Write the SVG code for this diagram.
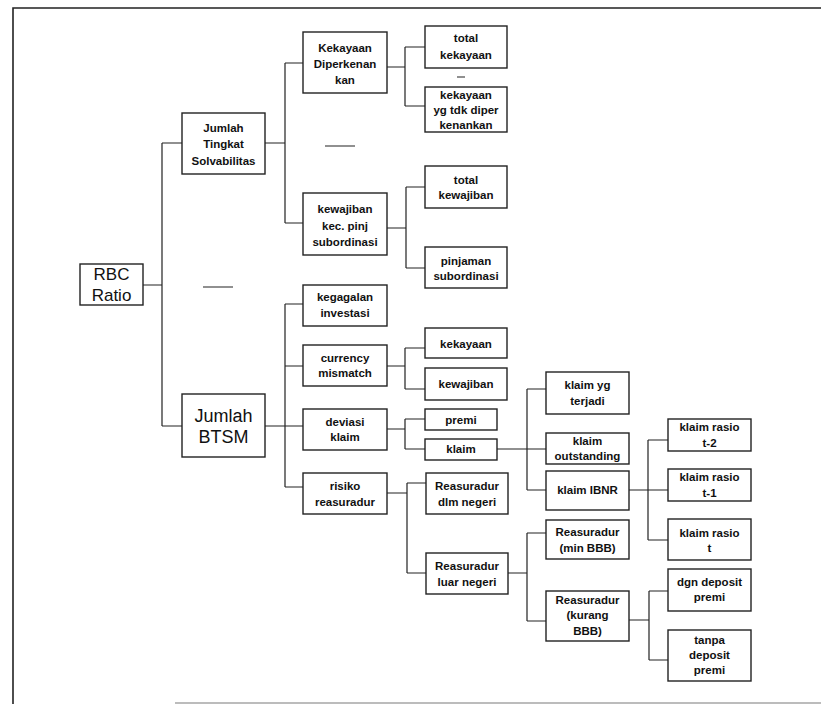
<svg xmlns="http://www.w3.org/2000/svg" width="821" height="704" viewBox="0 0 821 704">
<style>
rect.n{fill:#fff;stroke:#222;stroke-width:1.4}
text{font-family:"Liberation Sans",Arial,sans-serif;font-size:11.5px;font-weight:bold;fill:#111;text-anchor:middle;dominant-baseline:central}
text.big{font-size:17px;font-weight:normal}
.c{fill:none;stroke:#222;stroke-width:1.2}
.f{fill:none;stroke:#222;stroke-width:1.6}
</style>
<rect width="821" height="704" fill="#fff"/>
<g id="frame">
<path class="f" d="M13,704 V8 H821"/>
<path class="c" d="M175,703 H821" stroke-opacity="0.6"/>
</g>
<g id="connectors">
<path class="c" d="M143,285 H162 M162,143 V426 M162,143 H182 M162,426 H182"/>
<path class="c" d="M265,143 H285 M285,63 V223 M285,63 H303 M285,223 H303"/>
<path class="c" d="M265,426 H285 M285,304 V487 M285,304 H303 M285,366 H303 M285,426 H303 M285,487 H303"/>
<path class="c" d="M387,67 H405 M405,47 V106 M405,47 H425 M405,106 H425"/>
<path class="c" d="M387,228 H406 M406,187 V268 M406,187 H425 M406,268 H425"/>
<path class="c" d="M387,366 H405 M405,348 V389 M405,348 H425 M405,389 H425"/>
<path class="c" d="M387,429 H405 M405,419 V449 M405,419 H425 M405,449 H425"/>
<path class="c" d="M497,449 H546 M527,389 V490 M527,389 H546 M527,490 H546"/>
<path class="c" d="M629,490 H668 M648,440 V540 M648,440 H668 M648,540 H668"/>
<path class="c" d="M387,493 H407 M407,483 V573 M407,483 H426 M407,573 H426"/>
<path class="c" d="M508,573 H527 M527,533 V621 M527,533 H546 M527,621 H546"/>
<path class="c" d="M629,620 H649 M649,591 V660 M649,591 H668 M649,660 H668"/>
</g>
<g id="minus-signs">
<path class="c" d="M203,287 H233 M325,146 H355 M457,77 H465" stroke-width="1.4"/>
</g>
<g id="rbc"><rect class="n" x="80" y="264" width="63" height="41"/><text class="big" x="111.5" y="274">RBC</text><text class="big" x="111.5" y="295">Ratio</text></g>
<g id="jts"><rect class="n" x="182" y="113" width="83" height="61"/><text x="223.5" y="128">Jumlah</text><text x="223.5" y="144">Tingkat</text><text x="223.5" y="161">Solvabilitas</text></g>
<g id="btsm"><rect class="n" x="182" y="394" width="83" height="63"/><text class="big" x="223.5" y="416" style="font-size:18px">Jumlah</text><text class="big" x="223.5" y="437" style="font-size:18px">BTSM</text></g>
<g id="kekayaan-diperkenankan"><rect class="n" x="303" y="32" width="84" height="61"/><text x="345" y="48">Kekayaan</text><text x="345" y="64">Diperkenan</text><text x="345" y="80">kan</text></g>
<g id="kewajiban-kec"><rect class="n" x="303" y="193" width="84" height="62"/><text x="345" y="209">kewajiban</text><text x="345" y="226">kec. pinj</text><text x="345" y="242">subordinasi</text></g>
<g id="kegagalan"><rect class="n" x="303" y="285" width="84" height="41"/><text x="345" y="297">kegagalan</text><text x="345" y="313">investasi</text></g>
<g id="currency"><rect class="n" x="303" y="345" width="84" height="41"/><text x="345" y="358">currency</text><text x="345" y="373">mismatch</text></g>
<g id="deviasi"><rect class="n" x="303" y="409" width="84" height="41"/><text x="345" y="422">deviasi</text><text x="345" y="437">klaim</text></g>
<g id="risiko"><rect class="n" x="303" y="473" width="84" height="41"/><text x="345" y="486">risiko</text><text x="345" y="502">reasuradur</text></g>
<g id="total-kekayaan"><rect class="n" x="425" y="26" width="82" height="42"/><text x="466" y="38">total</text><text x="466" y="55">kekayaan</text></g>
<g id="kekayaan-tdk"><rect class="n" x="425" y="87" width="82" height="45"/><text x="466" y="95">kekayaan</text><text x="466" y="110">yg tdk diper</text><text x="466" y="125">kenankan</text></g>
<g id="total-kewajiban"><rect class="n" x="425" y="166" width="82" height="42"/><text x="466" y="180">total</text><text x="466" y="195">kewajiban</text></g>
<g id="pinjaman"><rect class="n" x="425" y="247" width="82" height="41"/><text x="466" y="261">pinjaman</text><text x="466" y="276">subordinasi</text></g>
<g id="kekayaan"><rect class="n" x="425" y="328" width="82" height="30"/><text x="466" y="344">kekayaan</text></g>
<g id="kewajiban"><rect class="n" x="425" y="368" width="82" height="32"/><text x="466" y="384">kewajiban</text></g>
<g id="premi"><rect class="n" x="425" y="409" width="72" height="21"/><text x="461" y="420">premi</text></g>
<g id="klaim"><rect class="n" x="425" y="439" width="72" height="21"/><text x="461" y="449">klaim</text></g>
<g id="reas-dlm"><rect class="n" x="426" y="473" width="82" height="41"/><text x="467" y="486">Reasuradur</text><text x="467" y="502">dlm negeri</text></g>
<g id="reas-luar"><rect class="n" x="426" y="553" width="82" height="41"/><text x="467" y="566">Reasuradur</text><text x="467" y="582">luar negeri</text></g>
<g id="klaim-terjadi"><rect class="n" x="546" y="372" width="83" height="42"/><text x="587.5" y="385">klaim yg</text><text x="587.5" y="401">terjadi</text></g>
<g id="klaim-outstanding"><rect class="n" x="546" y="433" width="83" height="31"/><text x="587.5" y="441">klaim</text><text x="587.5" y="456">outstanding</text></g>
<g id="klaim-ibnr"><rect class="n" x="546" y="471" width="83" height="39"/><text x="587.5" y="490">klaim IBNR</text></g>
<g id="reas-min"><rect class="n" x="546" y="520" width="83" height="39"/><text x="587.5" y="532">Reasuradur</text><text x="587.5" y="548">(min BBB)</text></g>
<g id="reas-kurang"><rect class="n" x="546" y="591" width="83" height="50"/><text x="587.5" y="600">Reasuradur</text><text x="587.5" y="615">(kurang</text><text x="587.5" y="631">BBB)</text></g>
<g id="rasio-t2"><rect class="n" x="668" y="419" width="83" height="32"/><text x="709.5" y="427">klaim rasio</text><text x="709.5" y="443">t-2</text></g>
<g id="rasio-t1"><rect class="n" x="668" y="469" width="83" height="32"/><text x="709.5" y="477">klaim rasio</text><text x="709.5" y="493">t-1</text></g>
<g id="rasio-t"><rect class="n" x="668" y="519" width="83" height="41"/><text x="709.5" y="533">klaim rasio</text><text x="709.5" y="548">t</text></g>
<g id="dgn-deposit"><rect class="n" x="668" y="569" width="83" height="42"/><text x="709.5" y="582">dgn deposit</text><text x="709.5" y="597">premi</text></g>
<g id="tanpa-deposit"><rect class="n" x="668" y="630" width="83" height="51"/><text x="709.5" y="640">tanpa</text><text x="709.5" y="655">deposit</text><text x="709.5" y="670">premi</text></g>
</svg>
